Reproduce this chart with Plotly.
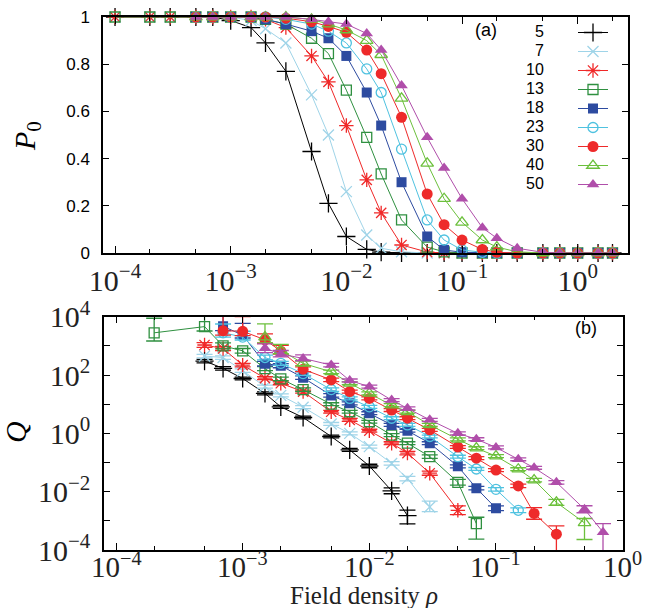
import plotly.graph_objects as go

W, H = 646, 608

# ---------------- data ----------------
labels = ["5", "7", "10", "13", "18", "23", "30", "40", "50"]
colors = ["#000000", "#9fd4e8", "#f02828", "#2f9040", "#2d4ba0",
          "#4fc2e0", "#ee2a2a", "#6cc03c", "#b04eaa"]
symbols = ["cross-thin-open", "x-thin-open", "asterisk-open", "square-open", "square",
           "circle-open", "circle", "triangle-up-open", "triangle-up"]
msizes = [13, 11, 12, 10, 10, 10, 11, 11, 11]

# panel (a): P0 vs rho
rho_a_full = [1e-4, 2e-4, 3e-4, 5e-4, 7e-4, 1e-3, 1.5e-3, 2e-3, 3e-3, 5e-3, 7e-3,
              1e-2, 1.5e-2, 2e-2, 3e-2, 5e-2, 7e-2, 0.1, 0.15, 0.2, 0.3, 0.5, 0.7,
              1.0, 1.5, 2.0]
rho_a_late = [5e-4, 7e-4, 1e-3, 1.5e-3, 2e-3, 3e-3, 5e-3, 7e-3,
              1e-2, 1.5e-2, 2e-2, 3e-2, 5e-2, 7e-2, 0.1, 0.15, 0.2, 0.3, 0.5, 0.7,
              1.0, 1.5, 2.0]

P0_5 = [1, 1, 1, 1, 1, 0.985, 0.955, 0.89, 0.77, 0.43, 0.21, 0.07, 0.015, 0.004,
        0, 0, 0, 0, 0, 0, 0, 0, 0, 0, 0, 0]
P0_7 = [1, 1, 1, 1, 1, 1, 0.985, 0.95, 0.89, 0.67, 0.50, 0.26, 0.076, 0.02, 0.005,
        0, 0, 0, 0, 0, 0, 0, 0, 0, 0, 0]
P0_10 = [1, 1, 1, 1, 1, 1, 1, 0.99, 0.955, 0.835, 0.725, 0.54, 0.31, 0.17, 0.034,
         0.004, 0, 0, 0, 0, 0, 0, 0, 0, 0, 0]
P0_13 = [1, 1, 1, 1, 1, 1, 1, 0.99, 0.97, 0.91, 0.845, 0.69, 0.49, 0.335, 0.14,
         0.025, 0.005, 0, 0, 0, 0, 0, 0, 0, 0, 0]
P0_18 = [1, 1, 1, 1, 0.99, 0.97, 0.94, 0.91, 0.835, 0.68, 0.54, 0.30, 0.07, 0.013,
         0.003, 0, 0, 0, 0, 0, 0, 0, 0]
P0_23 = [1, 1, 1, 1, 1, 0.99, 0.97, 0.94, 0.89, 0.78, 0.68, 0.44, 0.14, 0.055,
         0.013, 0.003, 0, 0, 0, 0, 0, 0, 0]
P0_30 = [1, 1, 1, 1, 1, 0.995, 0.98, 0.96, 0.935, 0.86, 0.76, 0.575, 0.25, 0.12,
         0.055, 0.015, 0.003, 0, 0, 0, 0, 0, 0]
P0_40 = [1, 1, 1, 1, 1, 1, 0.99, 0.97, 0.945, 0.90, 0.84, 0.655, 0.38, 0.23,
         0.13, 0.055, 0.025, 0.005, 0, 0, 0, 0, 0]
P0_50 = [1, 1, 1, 1, 1, 1, 0.99, 0.98, 0.97, 0.93, 0.86, 0.71, 0.49, 0.36,
         0.23, 0.107, 0.063, 0.02, 0.003, 0, 0, 0, 0]

rho_a = [rho_a_full] * 4 + [rho_a_late] * 5
P0 = [P0_5, P0_7, P0_10, P0_13, P0_18, P0_23, P0_30, P0_40, P0_50]

# panel (b): Q vs rho, with error bars (given in decades above / below)
rho_b_5 = [5e-4, 7e-4, 1e-3, 1.5e-3, 2e-3, 3e-3, 5e-3, 7e-3, 1e-2, 1.5e-2, 2e-2]
Q_5 = [302, 170, 76, 23.4, 8.1, 3.5, 0.78, 0.27, 0.076, 0.0107, 0.0015]
eu_5 = [0.06, 0.06, 0.05, 0.05, 0.05, 0.05, 0.05, 0.05, 0.06, 0.1, 0.19]
ed_5 = [0.06, 0.06, 0.05, 0.05, 0.05, 0.05, 0.05, 0.05, 0.06, 0.1, 0.28]

rho_b_7 = [5e-4, 7e-4, 1e-3, 1.5e-3, 2e-3, 3e-3, 5e-3, 7e-3, 1e-2, 1.5e-2, 2e-2, 3e-2]
Q_7 = [447, 398, 141, 40, 20, 7.9, 2.1, 1.0, 0.35, 0.093, 0.028, 0.003]
eu_7 = [0.06, 0.06, 0.06, 0.05, 0.05, 0.05, 0.05, 0.05, 0.05, 0.06, 0.08, 0.2]
ed_7 = [0.06, 0.06, 0.06, 0.05, 0.05, 0.05, 0.05, 0.05, 0.05, 0.06, 0.08, 0.16]

rho_b_10 = [5e-4, 7e-4, 1e-3, 1.5e-3, 2e-3, 3e-3, 5e-3, 7e-3, 1e-2, 1.5e-2, 2e-2, 3e-2, 5e-2]
Q_10 = [1070, 810, 219, 78, 52, 27, 5.5, 2.9, 1.23, 0.46, 0.21, 0.043, 0.0023]
eu_10 = [0.08, 0.07, 0.06, 0.05, 0.05, 0.05, 0.05, 0.05, 0.05, 0.05, 0.06, 0.07, 0.15]
ed_10 = [0.08, 0.07, 0.06, 0.05, 0.05, 0.05, 0.05, 0.05, 0.05, 0.05, 0.06, 0.07, 0.15]

rho_b_13 = [2e-4, 5e-4, 7e-4, 1e-3, 1.5e-3, 2e-3, 3e-3, 5e-3, 7e-3, 1e-2, 1.5e-2,
            2e-2, 3e-2, 5e-2, 7e-2]
Q_13 = [2800, 4570, 1000, 676, 166, 74, 31.6, 10, 5.5, 2.5, 0.87, 0.46, 0.16, 0.021, 0.0008]
eu_13 = [0.5, 0.4, 0.1, 0.08, 0.07, 0.06, 0.06, 0.05, 0.05, 0.05, 0.05, 0.05, 0.06, 0.1, 0.22]
ed_13 = [0.28, 0.15, 0.1, 0.08, 0.07, 0.06, 0.06, 0.05, 0.05, 0.05, 0.05, 0.05, 0.06, 0.1, 0.53]

rho_b_18 = [7e-4, 1e-3, 1.5e-3, 2e-3, 3e-3, 5e-3, 7e-3, 1e-2, 1.5e-2, 2e-2, 3e-2,
            5e-2, 7e-2, 0.1]
Q_18 = [4680, 2340, 245, 209, 81, 20, 10.7, 4.9, 1.95, 1.23, 0.46, 0.074, 0.0132, 0.0027]
eu_18 = [0.4, 0.4, 0.08, 0.07, 0.06, 0.06, 0.05, 0.05, 0.05, 0.05, 0.05, 0.05, 0.06, 0.08]
ed_18 = [0.15, 0.1, 0.08, 0.07, 0.06, 0.06, 0.05, 0.05, 0.05, 0.05, 0.05, 0.05, 0.06, 0.08]

rho_b_23 = [7e-4, 1e-3, 1.5e-3, 2e-3, 3e-3, 5e-3, 7e-3, 1e-2, 1.5e-2, 2e-2, 3e-2,
            5e-2, 7e-2, 0.1, 0.15]
Q_23 = [2820, 2000, 398, 251, 112, 31.6, 15.8, 8.1, 3.3, 1.95, 0.78, 0.158, 0.060, 0.012, 0.0023]
eu_23 = [0.3, 0.2, 0.08, 0.07, 0.06, 0.06, 0.05, 0.05, 0.05, 0.05, 0.05, 0.05, 0.05, 0.06, 0.08]
ed_23 = [0.15, 0.1, 0.08, 0.07, 0.06, 0.06, 0.05, 0.05, 0.05, 0.05, 0.05, 0.05, 0.05, 0.06, 0.08]

rho_b_30 = [7e-4, 1e-3, 1.5e-3, 2e-3, 3e-3, 5e-3, 7e-3, 1e-2, 1.5e-2, 2e-2, 3e-2,
            5e-2, 7e-2, 0.1, 0.15, 0.2, 0.3]
Q_30 = [3310, 3160, 1620, 660, 158, 68, 27, 15.8, 6.3, 3.3, 1.32, 0.34, 0.141, 0.055,
        0.0158, 0.0018, 0.00035]
eu_30 = [0.5, 0.5, 0.2, 0.2, 0.08, 0.06, 0.05, 0.05, 0.05, 0.05, 0.05, 0.05, 0.05, 0.05,
         0.06, 0.2, 0.28]
ed_30 = [0.15, 0.15, 0.12, 0.1, 0.08, 0.06, 0.05, 0.05, 0.05, 0.05, 0.05, 0.05, 0.05, 0.05,
         0.06, 0.2, 1.0]

rho_b_40 = [1.5e-3, 2e-3, 3e-3, 5e-3, 7e-3, 1e-2, 1.5e-2, 2e-2, 3e-2, 5e-2, 7e-2,
            0.1, 0.15, 0.2, 0.3, 0.5]
Q_40 = [2000, 708, 251, 129, 52, 23.4, 9.3, 5.5, 1.95, 0.62, 0.31, 0.166, 0.059, 0.025,
        0.0043, 0.00085]
eu_40 = [0.45, 0.2, 0.08, 0.06, 0.05, 0.05, 0.05, 0.05, 0.05, 0.05, 0.05, 0.05, 0.05, 0.06,
         0.1, 0.15]
ed_40 = [0.2, 0.12, 0.08, 0.06, 0.05, 0.05, 0.05, 0.05, 0.05, 0.05, 0.05, 0.05, 0.05, 0.06,
         0.1, 0.57]

rho_b_50 = [1.5e-3, 2e-3, 3e-3, 5e-3, 7e-3, 1e-2, 1.5e-2, 2e-2, 3e-2, 5e-2, 7e-2,
            0.1, 0.15, 0.2, 0.3, 0.5, 0.7]
Q_50 = [830, 525, 372, 219, 65, 40, 13.8, 7.2, 2.9, 1.0, 0.63, 0.33, 0.129, 0.066,
        0.021, 0.0025, 0.00041]
eu_50 = [0.15, 0.12, 0.12, 0.06, 0.05, 0.05, 0.05, 0.05, 0.05, 0.05, 0.05, 0.05, 0.05, 0.05,
         0.06, 0.12, 0.29]
ed_50 = [0.15, 0.1, 0.08, 0.06, 0.05, 0.05, 0.05, 0.05, 0.05, 0.05, 0.05, 0.05, 0.05, 0.05,
         0.06, 0.12, 1.0]

rho_b = [rho_b_5, rho_b_7, rho_b_10, rho_b_13, rho_b_18, rho_b_23, rho_b_30, rho_b_40, rho_b_50]
Q = [Q_5, Q_7, Q_10, Q_13, Q_18, Q_23, Q_30, Q_40, Q_50]
EU = [eu_5, eu_7, eu_10, eu_13, eu_18, eu_23, eu_30, eu_40, eu_50]
ED = [ed_5, ed_7, ed_10, ed_13, ed_18, ed_23, ed_30, ed_40, ed_50]

# tick labels
x_tick_exp = [-4, -3, -2, -1, 0]
y_b_label_exp = [-4, -2, 0, 2, 4]
y_b_minor_exp = [-3, -1, 1, 3]


def pow_label(e):
    return "10<sup>" + ("\u2212" + str(-e) if e < 0 else str(e)) + "</sup>"


# ---------------- figure ----------------
SERIF = "Liberation Serif, DejaVu Serif, serif"
SANS = "Liberation Sans, Arial, sans-serif"

fig = go.Figure()

for i, lab in enumerate(labels):
    filled = symbols[i] in ("square", "circle", "triangle-up")
    mk = dict(symbol=symbols[i], size=msizes[i], color=colors[i],
              line=dict(color=colors[i], width=0 if filled else 1.3))
    fig.add_trace(go.Scatter(
        x=rho_a[i], y=P0[i], mode="lines+markers", name="",
        line=dict(color=colors[i], width=1), marker=mk,
        cliponaxis=False, xaxis="x", yaxis="y", showlegend=True,
        hovertemplate="N=" + lab + "<br>ρ=%{x}<br>P0=%{y}<extra></extra>"))

for i, lab in enumerate(labels):
    filled = symbols[i] in ("square", "circle", "triangle-up")
    mk = dict(symbol=symbols[i], size=msizes[i], color=colors[i],
              line=dict(color=colors[i], width=0 if filled else 1.3))
    up = [q * (10 ** u - 1) for q, u in zip(Q[i], EU[i])]
    dn = [q * (1 - 10 ** (-d)) for q, d in zip(Q[i], ED[i])]
    fig.add_trace(go.Scatter(
        x=rho_b[i], y=Q[i], mode="lines+markers", name=lab,
        line=dict(color=colors[i], width=1), marker=mk,
        error_y=dict(type="data", array=up, arrayminus=dn, symmetric=False,
                     color=colors[i], thickness=1.3, width=8),
        xaxis="x2", yaxis="y2", showlegend=False,
        hovertemplate="N=" + lab + "<br>ρ=%{x}<br>Q=%{y}<extra></extra>"))

minor_x = [m * 10 ** k for k in range(-5, 1) for m in (2, 5)]

common_axis = dict(showline=True, linecolor="black", linewidth=1.5, mirror="ticks",
                   ticks="inside", tickcolor="black", showgrid=False, zeroline=False,
                   automargin=False)

fig.update_layout(
    width=W, height=H,
    margin=dict(l=0, r=0, t=0, b=0, pad=0, autoexpand=False),
    paper_bgcolor="white", plot_bgcolor="white",
    xaxis=dict(common_axis, domain=[103 / W, 628 / W], type="log",
               range=[-4.104, 0.435], anchor="y",
               tickmode="array", tickvals=[10 ** e for e in x_tick_exp],
               ticktext=[pow_label(e) for e in x_tick_exp],
               ticklen=7, tickfont=dict(family=SERIF, size=30, color="#222"),
               minor=dict(ticks="inside", ticklen=4, tickcolor="black",
                          tickvals=minor_x, showgrid=False)),
    yaxis=dict(common_axis, domain=[1 - 253 / H, 1 - 17 / H], range=[0, 1],
               anchor="x", dtick=0.2, ticklen=6, ticklabelstandoff=8,
               tickfont=dict(family=SANS, size=17, color="black")),
    xaxis2=dict(common_axis, domain=[104 / W, 623 / W], type="log",
                range=[-4.095, 0.003], anchor="y2",
                tickmode="array", tickvals=[10 ** e for e in x_tick_exp],
                showticklabels=False, ticklen=7,
                minor=dict(ticks="inside", ticklen=4, tickcolor="black",
                           tickvals=minor_x, showgrid=False)),
    yaxis2=dict(common_axis, domain=[1 - 550 / H, 1 - 316.7 / H], type="log",
                range=[-4, 4], anchor="x2",
                tickmode="array", tickvals=[10.0 ** e for e in y_b_label_exp],
                ticktext=[pow_label(e) for e in y_b_label_exp],
                ticklen=6, ticklabelstandoff=6,
                tickfont=dict(family=SERIF, size=30, color="#222"),
                minor=dict(ticks="inside", ticklen=6, tickcolor="black",
                           tickvals=[10.0 ** e for e in y_b_minor_exp], showgrid=False)),
    legend=dict(x=573 / W, y=1 - 18 / H, xanchor="left", yanchor="top",
                bgcolor="rgba(0,0,0,0)", borderwidth=0,
                font=dict(family=SANS, size=12), tracegroupgap=0),
)

ann = [
    dict(text="(a)", x=486 / W, y=1 - 30 / H, font=dict(family=SANS, size=18)),
    dict(text="(b)", x=586 / W, y=1 - 328 / H, font=dict(family=SANS, size=18)),
    dict(text="<i>P</i><sub>0</sub>", x=27 / W, y=1 - 136 / H, textangle=-90,
         font=dict(family=SERIF, size=30)),
    dict(text="<i>Q</i>", x=15 / W, y=1 - 432 / H, textangle=-90,
         font=dict(family=SERIF, size=30)),
    dict(text="Field density <i>ρ</i>", x=364 / W, y=1 - 595 / H,
         font=dict(family=SERIF, size=25, color="#222")),
]
for i, lab in enumerate(labels):
    ann.append(dict(text=lab, x=546 / W, y=1 - (31 + 19 * i) / H, xanchor="right",
                    font=dict(family=SANS, size=16)))
for a in ann:
    a.setdefault("xanchor", "center")
    a.update(xref="paper", yref="paper", showarrow=False, yanchor="middle")
    a.setdefault("font", {})
    a["font"].setdefault("color", "black")

# tick labels of the lower x axis, anchored to the axis's own tick values
for e in x_tick_exp:
    ann.append(dict(text=pow_label(e), xref="x2", x=e, yref="paper", y=1 - 565 / H,
                    xanchor="center", yanchor="middle", showarrow=False,
                    font=dict(family=SERIF, size=29, color="#222")))

fig.update_layout(annotations=ann)

fig.write_html("out.html", config={"displayModeBar": False},
               post_script="document.body.style.margin='0px';")
